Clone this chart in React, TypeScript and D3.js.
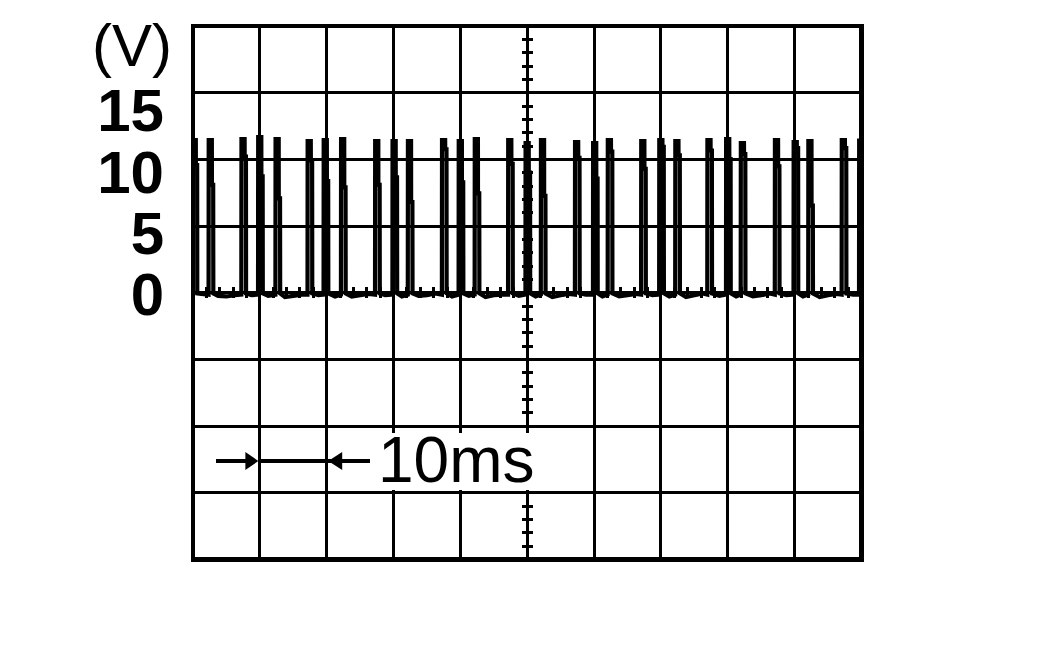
import { useMemo } from "react";
import * as d3 from "d3";

// screen: 10 divisions of 10 ms, 8 vertical divisions
const TIME_DIVS = d3.range(0, 101, 10);
const ROW_DIVS = d3.range(0, 9);
const VOLT_TICKS = [0, 5, 10, 15];

// spike times (ms), peak voltage and shoulder voltage
const spikeTimes = [
  0.2, 2.6, 7.5, 10.0, 12.6, 17.4, 19.8, 22.4, 27.5, 30.1, 32.4, 37.5, 40.0, 42.4,
  47.4, 50.0, 52.3, 57.4, 60.1, 62.3, 67.3, 70.0, 72.4, 77.2, 80.0, 82.2, 87.3,
  90.1, 92.3, 97.3, 99.9,
];
const spikePeaks = [
  12.55, 12.55, 12.63, 12.8, 12.63, 12.47, 12.55, 12.63, 12.47, 12.47, 12.47, 12.55,
  12.47, 12.63, 12.55, 12.31, 12.55, 12.39, 12.31, 12.55, 12.47, 12.55, 12.47, 12.55,
  12.63, 12.31, 12.55, 12.39, 12.47, 12.55, 12.5,
];
const spikeShoulders = [
  10.5, 8.9, 11.2, 9.6, 7.8, 10.9, 9.2, 8.7, 8.9, 9.5, 7.5, 11.8, 9.1, 8.2, 10.6,
  9.9, 8.0, 11.1, 9.4, 11.6, 10.2, 12.0, 11.3, 11.7, 11.0, 11.4, 10.4, 11.9, 7.2,
  11.9, 11.0,
];

// baseline ripple (V), one value every 1.25 ms
const baselineRipple = [
  0.1, 0.0, -0.1, -0.15, -0.2, -0.1, 0.05, -0.1, 0.0, -0.15, -0.2, -0.25, -0.15,
  -0.05, 0.1, -0.1, -0.05, -0.2, -0.15, -0.2, -0.1, 0.0, -0.15, -0.1, 0.05, -0.2,
  -0.25, -0.15, -0.1, 0.05, -0.1, -0.2, 0.0, -0.15, -0.2, -0.25, -0.1, -0.05, 0.1,
  -0.15, -0.1, -0.2, -0.15, -0.25, -0.1, 0.0, -0.1, -0.05, 0.05, -0.2, -0.25, -0.2,
  -0.1, 0.0, -0.15, -0.1, 0.0, -0.2, -0.15, -0.25, -0.1, 0.05, -0.1, -0.15, 0.0,
  -0.2, -0.25, -0.2, -0.1, 0.05, -0.15, -0.1, 0.0, -0.2, -0.2, -0.25, -0.1, 0.0,
  -0.1, -0.05, 0.0,
];

const W = 1052;
const H = 650;
const FONT = "'Liberation Sans', Arial, sans-serif";

export default function App() {
  const x = d3.scaleLinear().domain([0, 100]).range([193, 861.5]);
  const gy = d3.scaleLinear().domain([0, 8]).range([26, 559.5]);
  const y = d3.scaleLinear().domain([0, 15]).range([294, 110]);

  const tracePath = useMemo(() => {
    const pts: [number, number][] = [];
    baselineRipple.forEach((v, i) => {
      const t = i * 1.25;
      const inSpike = spikeTimes.some((s) => t > s - 0.55 && t < s + 0.65);
      if (!inSpike) pts.push([t, v]);
    });
    spikeTimes.forEach((s, i) => {
      const pk = spikePeaks[i];
      const sh = spikeShoulders[i];
      pts.push(
        [s - 0.27, -0.05],
        [s - 0.25, pk],
        [s + 0.22, pk],
        [s + 0.23, sh],
        [s + 0.42, sh],
        [s + 0.44, 0.05]
      );
    });
    pts.sort((a, b) => a[0] - b[0]);
    return d3
      .line<[number, number]>()
      .x((d) => x(d[0]))
      .y((d) => y(d[1]))(pts);
  }, []);

  const cx = x(50);
  const cy = gy(4);
  const minorV = d3.range(1, 40).filter((k) => k % 5 !== 0);
  const minorH = d3.range(1, 50).filter((k) => k % 5 !== 0);

  const arrowY = 461;
  const tipR = x(10) - 1.5;
  const tipL = x(20) + 1.5;

  return (
    <svg
      width={W}
      height={H}
      style={{ position: "absolute", left: 0, top: 0, background: "#fff" }}
    >
      <defs>
        <clipPath id="screen">
          <rect x={x(0)} y={0} width={x(100) - x(0)} height={H} />
        </clipPath>
      </defs>

      {/* graticule */}
      <g stroke="#000" strokeWidth={3} shapeRendering="crispEdges">
        {TIME_DIVS.slice(1, -1).map((d) => (
          <line key={"v" + d} x1={x(d)} x2={x(d)} y1={gy(0)} y2={gy(8)} />
        ))}
        {ROW_DIVS.slice(1, -1).map((d) => (
          <line key={"h" + d} x1={x(0)} x2={x(100)} y1={gy(d)} y2={gy(d)} />
        ))}
        {minorV.map((k) => (
          <line key={"mv" + k} x1={cx - 5.5} x2={cx + 5.5} y1={gy(k / 5)} y2={gy(k / 5)} />
        ))}
        {minorH.map((k) => (
          <line key={"mh" + k} x1={x(k * 2)} x2={x(k * 2)} y1={cy - 5.5} y2={cy + 5.5} />
        ))}
      </g>
      <rect
        x={x(0)}
        y={gy(0)}
        width={x(100) - x(0)}
        height={gy(8) - gy(0)}
        fill="none"
        stroke="#000"
        strokeWidth={4.5}
        shapeRendering="crispEdges"
      />

      {/* trace */}
      <path
        d={tracePath ?? ""}
        clipPath="url(#screen)"
        fill="none"
        stroke="#000"
        strokeWidth={4.2}
        strokeLinejoin="miter"
      />

      {/* time base label */}
      <rect x={372} y={433} width={170} height={57} fill="#fff" />
      <text x={378} y={482} fontFamily={FONT} fontSize={64} fill="#000">
        10ms
      </text>
      <g stroke="#000" strokeWidth={4} fill="#000">
        <line x1={x(3.5)} x2={tipR - 10} y1={arrowY} y2={arrowY} shapeRendering="crispEdges" />
        <line x1={tipR} x2={x(26.5)} y1={arrowY} y2={arrowY} shapeRendering="crispEdges" />
        <path
          d={`M${tipR},${arrowY} L${tipR - 13},${arrowY - 9} L${tipR - 13},${arrowY + 9} Z`}
          stroke="none"
        />
        <path
          d={`M${tipL},${arrowY} L${tipL + 14},${arrowY - 9} L${tipL + 14},${arrowY + 9} Z`}
          stroke="none"
        />
      </g>

      {/* voltage axis */}
      <text x={92} y={66} fontFamily={FONT} fontSize={60} fill="#000">
        (V)
      </text>
      {VOLT_TICKS.map((v) => (
        <text
          key={v}
          x={164}
          y={y(v) + 0.358 * 60}
          textAnchor="end"
          fontFamily={FONT}
          fontSize={60}
          fontWeight="bold"
          fill="#000"
        >
          {v}
        </text>
      ))}
    </svg>
  );
}
